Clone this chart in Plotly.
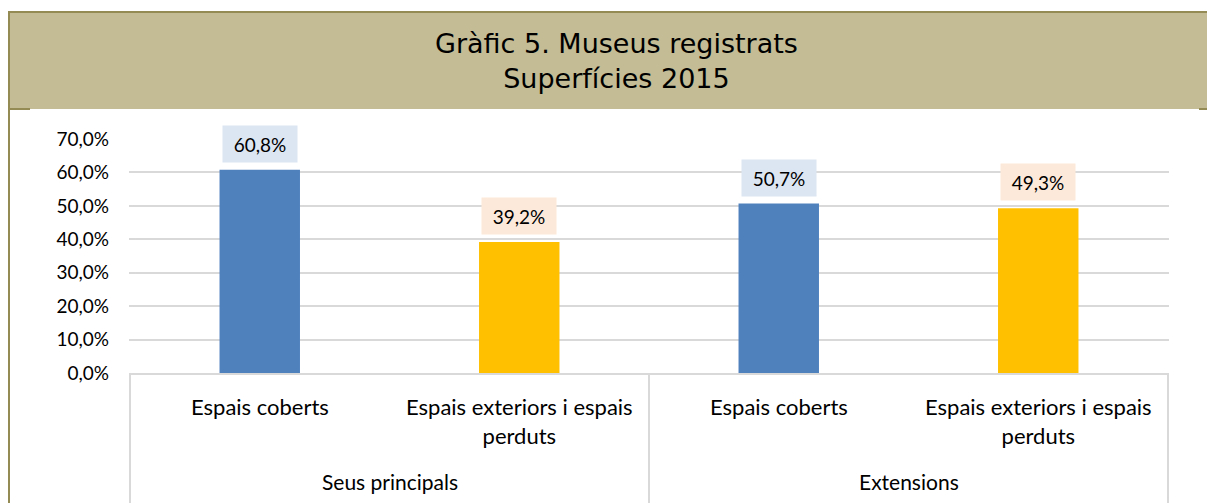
import plotly.graph_objects as go

groups = ["Seus principals", "Seus principals", "Extensions", "Extensions"]
categories = ["Espais coberts", "Espais exteriors i espais<br>perduts",
              "Espais coberts", "Espais exteriors i espais<br>perduts"]
values = [60.8, 39.2, 50.7, 49.3]
bar_colors = ["#4F81BD", "#FFC000", "#4F81BD", "#FFC000"]
label_bg = ["#DCE6F2", "#FDE9D9", "#DCE6F2", "#FDE9D9"]
title_lines = ["Gràfic 5. Museus registrats", "Superfícies 2015"]
yticks = [0, 10, 20, 30, 40, 50, 60, 70]
yticktext = [f"{t:.1f}%".replace(".", ",") for t in yticks]

FONT = "Lato"
TFONT = "DejaVu Sans"
GRID = "#D9D9D9"
BORDER = "#948A54"

# page body has 8px margin: work in screen coords and convert
OFF = 8
PL, PR, PT, PB = 129, 1169, 139, 373  # plot area in screen px
W, H = 1215, 503


def px(xs):
    return (xs - PL) / (PR - PL)


def py(ys):
    return (PB - ys) / (PB - PT)


fig = go.Figure()
fig.add_trace(go.Bar(
    x=[groups, categories], y=values,
    marker=dict(color=bar_colors, line=dict(width=0)),
    hoverinfo="skip",
))

fig.update_layout(
    width=W, height=H,
    margin=dict(l=PL - OFF, r=W - (PR - OFF), t=PT - OFF, b=H - (PB - OFF)),
    paper_bgcolor="white", plot_bgcolor="white",
    showlegend=False,
    bargap=0.69,
    font=dict(family=FONT, size=19, color="#000000"),
    xaxis=dict(
        type="multicategory",
        showgrid=False, showline=True, linecolor=GRID, linewidth=2,
        showdividers=False, showticklabels=False, ticks="",
    ),
    yaxis=dict(
        range=[0, 70], tickvals=yticks, ticktext=yticktext,
        showgrid=True, gridcolor=GRID, gridwidth=2,
        zeroline=False, showline=False, ticks="",
        ticklabelstandoff=19,
        tickfont=dict(family=FONT, size=19, color="#000000"),
    ),
)

# title box
fig.add_shape(type="rect", xref="paper", yref="paper",
              x0=px(8), x1=px(1240), y0=py(109), y1=py(12),
              fillcolor="#C3BC95", line=dict(width=0), layer="below")
for (x0, y0, x1, y1) in [(8, 12, 1240, 12), (9, 12, 9, 520),
                         (8, 109, 30, 109), (1199, 109, 1240, 109)]:
    fig.add_shape(type="line", xref="paper", yref="paper",
                  x0=px(x0), x1=px(x1), y0=py(y0), y1=py(y1),
                  line=dict(color=BORDER, width=2))

fig.add_annotation(
    xref="paper", yref="paper", x=px(616), y=py(61),
    text="<br>".join(title_lines), showarrow=False,
    font=dict(family=TFONT, size=27, color="#000000"), yanchor="middle",
)

# data labels
for i, (v, bg) in enumerate(zip(values, label_bg)):
    fig.add_annotation(
        x=i, y=v, xref="x", yref="y",
        text=f"{v:.1f}%".replace(".", ","),
        showarrow=False, yanchor="bottom", yshift=7,
        bgcolor=bg, width=72, height=34,
        font=dict(family=FONT, size=19, color="#000000"),
    )

# category labels
for i, c in enumerate(categories):
    fig.add_annotation(
        x=i, xref="x", y=py(391), yref="paper", yanchor="top",
        text=c, showarrow=False,
        font=dict(family=FONT, size=22, color="#000000"),
    )

# group labels and dividers
n = len(groups)
starts = [i for i in range(n) if i == 0 or groups[i] != groups[i - 1]]
bounds = starts + [n]
for k in range(len(starts)):
    a, b = bounds[k], bounds[k + 1]
    fig.add_annotation(
        x=(a + b - 1) / 2, xref="x", y=py(481), yref="paper", yanchor="middle",
        text=groups[a], showarrow=False,
        font=dict(family=FONT, size=21, color="#000000"),
    )
for bnd in bounds:
    fig.add_shape(type="line", xref="x", yref="paper",
                  x0=bnd - 0.5, x1=bnd - 0.5, y0=0, y1=py(510),
                  line=dict(color=GRID, width=2))

fig.write_html("out.html")
